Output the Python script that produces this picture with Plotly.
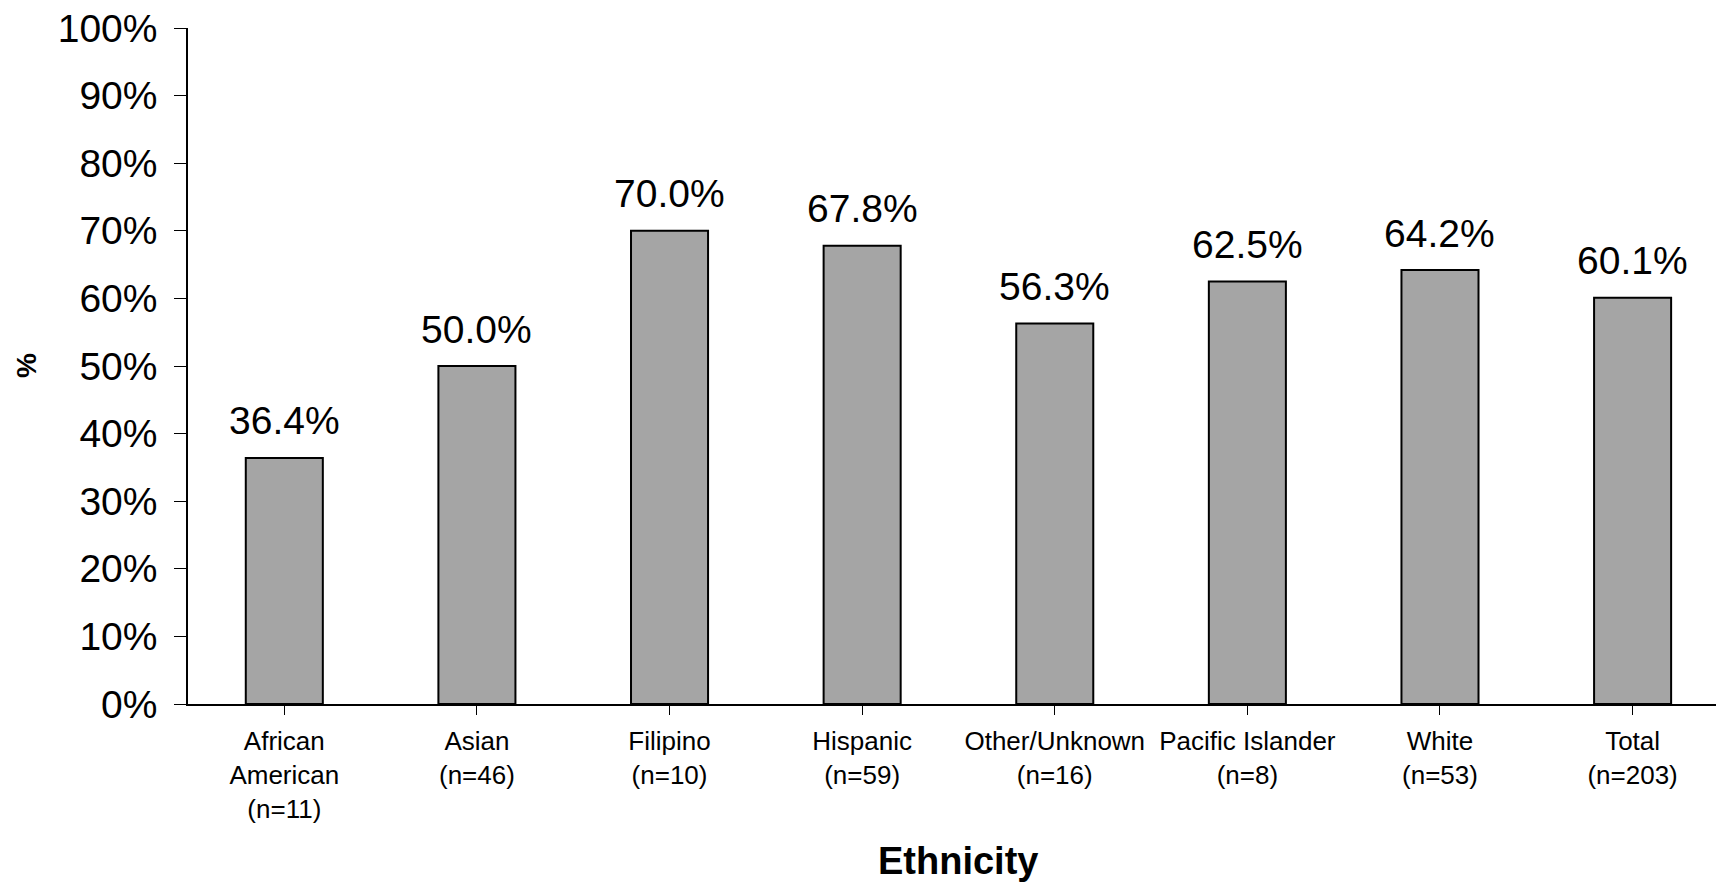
import plotly.graph_objects as go

# Share of students by ethnicity (percent)
categories = [
    "African<br>American<br>(n=11)",
    "Asian<br>(n=46)",
    "Filipino<br>(n=10)",
    "Hispanic<br>(n=59)",
    "Other/Unknown<br>(n=16)",
    "Pacific Islander<br>(n=8)",
    "White<br>(n=53)",
    "Total<br>(n=203)",
]
values = [36.4, 50.0, 70.0, 67.8, 56.3, 62.5, 64.2, 60.1]
y_ticks = [0, 10, 20, 30, 40, 50, 60, 70, 80, 90, 100]

FONT = "Liberation Sans, Arial, sans-serif"
x_pos = list(range(len(categories)))

fig = go.Figure(
    go.Bar(
        x=x_pos,
        y=values,
        width=0.4,
        marker=dict(color="#a5a5a5", line=dict(color="#000000", width=2)),
        hoverinfo="skip",
    )
)

# value labels above each bar
for xi, v in zip(x_pos, values):
    fig.add_annotation(
        x=xi, y=v, text=f"{v:.1f}%", showarrow=False,
        yanchor="middle", yshift=37,
        font=dict(family=FONT, size=39, color="#000000"),
    )

# axis titles
fig.add_annotation(
    x=3.5, xref="x", y=0, yref="paper", text="<b>Ethnicity</b>",
    showarrow=False, yanchor="middle", yshift=-157,
    font=dict(family=FONT, size=38, color="#000000"),
)
fig.add_annotation(
    x=0, xref="paper", y=0.5, yref="paper", text="<b>%</b>",
    showarrow=False, textangle=-90, xanchor="center", yanchor="middle",
    xshift=-162,
    font=dict(family=FONT, size=28, color="#000000"),
)

fig.update_layout(
    width=1716, height=882,
    margin=dict(l=188, r=0, t=28, b=178, pad=0),
    paper_bgcolor="white", plot_bgcolor="white",
    showlegend=False,
    font=dict(family=FONT, color="#000000"),
)
fig.update_xaxes(
    range=[-0.5, 7.433],
    tickmode="array", tickvals=x_pos, ticktext=categories,
    tickson="boundaries", ticks="outside", ticklen=9, tickwidth=1, tickcolor="#000000",
    showline=True, linecolor="#000000", linewidth=1.5,
    showgrid=False, zeroline=False,
    tickfont=dict(family=FONT, size=26, color="#000000"),
    ticklabelstandoff=4,
    fixedrange=True,
)
fig.update_yaxes(
    range=[0, 100],
    tickmode="array", tickvals=y_ticks, ticktext=[f"{t}%" for t in y_ticks],
    ticks="outside", ticklen=12, tickwidth=1, tickcolor="#000000",
    showline=True, linecolor="#000000", linewidth=1.5,
    showgrid=False, zeroline=False,
    tickfont=dict(family=FONT, size=39, color="#000000"),
    ticklabelstandoff=9,
    fixedrange=True,
)

fig.write_html("out.html", config={"displayModeBar": False})
